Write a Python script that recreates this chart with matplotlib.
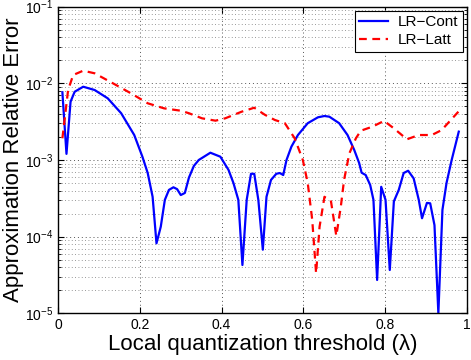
import numpy as np
import matplotlib
matplotlib.use("Agg")
import matplotlib.pyplot as plt
from matplotlib.ticker import LogLocator, FixedLocator, FuncFormatter

plt.rcParams["font.family"] = ["Liberation Sans", "DejaVu Sans"]

# LR-Cont: (lambda, log10 error)
cont_x = [0.010, 0.020, 0.030, 0.040, 0.061, 0.089, 0.121, 0.154, 0.186, 0.206,
          0.219, 0.231, 0.2405, 0.251, 0.261, 0.271, 0.282, 0.291, 0.300, 0.310,
          0.320, 0.332, 0.344, 0.3725, 0.397, 0.417, 0.429, 0.441, 0.451, 0.4615,
          0.472, 0.480, 0.490, 0.501, 0.510, 0.521, 0.534, 0.5426, 0.551, 0.559,
          0.571, 0.587, 0.611, 0.636, 0.652, 0.664, 0.688, 0.7085, 0.725, 0.737,
          0.743, 0.753, 0.764, 0.772, 0.781, 0.791, 0.8016, 0.812, 0.822, 0.834,
          0.846, 0.857, 0.8705, 0.883, 0.891, 0.903, 0.911, 0.9215, 0.931, 0.941,
          0.951, 0.9636, 0.981]
cont_log = [-2.117, -2.92, -2.24, -2.11, -2.044, -2.087, -2.195, -2.39, -2.674, -2.957,
            -3.17, -3.48, -4.087, -3.87, -3.52, -3.39, -3.356, -3.38, -3.457, -3.43,
            -3.23, -3.078, -3.0, -2.905, -2.957, -3.13, -3.30, -3.52, -4.37, -3.52,
            -3.18, -3.18, -3.52, -4.17, -3.48, -3.26, -3.18, -3.17, -3.196, -3.0,
            -2.826, -2.674, -2.52, -2.443, -2.426, -2.435, -2.52, -2.674, -2.87, -3.04,
            -3.166, -3.196, -3.326, -3.52, -4.565, -3.35, -3.52, -4.435, -3.54, -3.39,
            -3.17, -3.14, -3.24, -3.52, -3.76, -3.56, -3.565, -3.85, -5.0, -3.65,
            -3.30, -3.0, -2.63]

# LR-Latt
latt_x = [0.010, 0.0163, 0.024, 0.0364, 0.061, 0.089, 0.134, 0.178, 0.219, 0.259,
          0.300, 0.320, 0.352, 0.385, 0.409, 0.449, 0.480, 0.506, 0.5305, 0.555,
          0.579, 0.599, 0.611, 0.622, 0.6315, 0.640, 0.652, 0.668, 0.681, 0.692,
          0.700, 0.713, 0.729, 0.741, 0.769, 0.798, 0.822, 0.854, 0.883, 0.915,
          0.939, 0.980]
latt_log = [-2.717, -2.435, -2.087, -1.891, -1.835, -1.869, -2.0, -2.13, -2.26, -2.326,
            -2.357, -2.39, -2.456, -2.487, -2.456, -2.37, -2.318, -2.41, -2.478, -2.52,
            -2.717, -3.0, -3.30, -3.78, -4.478, -3.87, -3.48, -3.54, -3.99, -3.61,
            -3.26, -2.913, -2.717, -2.618, -2.566, -2.49, -2.587, -2.73, -2.674, -2.674,
            -2.61, -2.37]

fig = plt.figure(figsize=(4.71, 3.6), dpi=100)
ax = fig.add_axes([0.1238, 0.1297, 0.8667, 0.8517])

ax.semilogy(cont_x, 10 ** np.array(cont_log), color="#0000ff", lw=1.6, label="LR\u2212Cont")
ax.semilogy(latt_x, 10 ** np.array(latt_log), color="#ff0000", lw=1.6,
            ls=(0, (3.5, 2.5)), label="LR\u2212Latt")

ax.set_xlim(0, 1)
ax.set_ylim(1e-5, 1e-1)
ax.xaxis.set_major_locator(FixedLocator([0, 0.2, 0.4, 0.6, 0.8, 1.0]))
ax.xaxis.set_major_formatter(FuncFormatter(lambda v, p: "%g" % v))
ax.yaxis.set_major_locator(LogLocator(base=10, numticks=10))
ax.yaxis.set_minor_locator(LogLocator(base=10, subs=np.arange(2, 10), numticks=20))

ax.grid(True, which="major", axis="both", color="#555555", ls=(0, (1, 3)), lw=0.7)
ax.grid(True, which="minor", axis="y", color="#777777", ls=(0, (1, 3)), lw=0.6)
ax.tick_params(which="both", direction="in", top=True, right=True, labelsize=10)
ax.tick_params(which="major", length=4, width=0.8)
ax.tick_params(which="minor", length=2, width=0.6)
for s in ax.spines.values():
    s.set_linewidth(1.0)

ax.set_xlabel("Local quantization threshold (\u03bb)", fontsize=16, labelpad=1)
ax.set_ylabel("Approximation Relative Error", fontsize=16, labelpad=1)

leg = ax.legend(loc="upper right", fontsize=11, fancybox=False, framealpha=1,
                edgecolor="black", borderaxespad=0.25, handlelength=1.9,
                borderpad=0.3, labelspacing=0.25, handletextpad=0.6)
leg.get_frame().set_linewidth(0.8)

fig.savefig("out.png", dpi=100)
